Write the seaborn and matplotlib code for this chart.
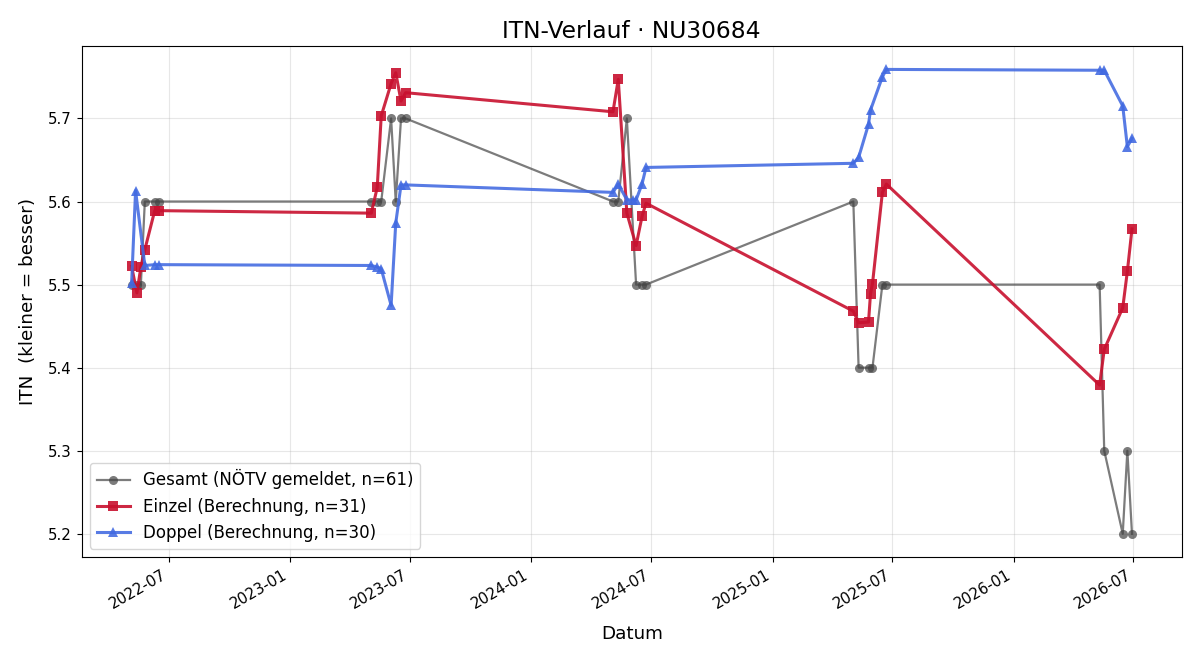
import matplotlib
matplotlib.use("Agg")
import matplotlib.pyplot as plt
import matplotlib.dates as mdates
import numpy as np
import pandas as pd
import seaborn as sns

# Gesamt (reported by NÖTV)
gesamt_dates = ["2022-05-06", "2022-05-14", "2022-05-20", "2022-05-26", "2022-06-10", "2022-06-17",
                "2023-05-04", "2023-05-13", "2023-05-19", "2023-06-03", "2023-06-10", "2023-06-18", "2023-06-25",
                "2024-05-04", "2024-05-12", "2024-05-25", "2024-06-08", "2024-06-17", "2024-06-23",
                "2025-05-03", "2025-05-11", "2025-05-26", "2025-06-01", "2025-06-16", "2025-06-22",
                "2026-05-11", "2026-05-18", "2026-06-15", "2026-06-22", "2026-06-29"]
gesamt_itn = [5.5, 5.5, 5.5, 5.6, 5.6, 5.6,
              5.6, 5.6, 5.6, 5.7, 5.6, 5.7, 5.7,
              5.6, 5.6, 5.7, 5.5, 5.5, 5.5,
              5.6, 5.4, 5.4, 5.4, 5.5, 5.5,
              5.5, 5.3, 5.2, 5.3, 5.2]

# Einzel (berechnet)
einzel_dates = ["2022-05-06", "2022-05-14", "2022-05-20", "2022-05-26", "2022-06-10", "2022-06-17",
                "2023-05-04", "2023-05-13", "2023-05-19", "2023-06-03", "2023-06-10", "2023-06-18", "2023-06-25",
                "2024-05-04", "2024-05-12", "2024-05-25", "2024-06-08", "2024-06-17", "2024-06-23",
                "2025-05-03", "2025-05-11", "2025-05-26", "2025-05-29", "2025-06-01", "2025-06-16", "2025-06-22",
                "2026-05-11", "2026-05-18", "2026-06-15", "2026-06-22", "2026-06-29"]
einzel_itn = [5.522, 5.490, 5.521, 5.542, 5.589, 5.589,
              5.586, 5.617, 5.703, 5.742, 5.755, 5.721, 5.731,
              5.708, 5.747, 5.586, 5.547, 5.582, 5.598,
              5.468, 5.454, 5.455, 5.489, 5.501, 5.611, 5.621,
              5.379, 5.422, 5.472, 5.516, 5.567]

# Doppel (berechnet)
doppel_dates = ["2022-05-06", "2022-05-12", "2022-05-26", "2022-06-10", "2022-06-17",
                "2023-05-04", "2023-05-13", "2023-05-19", "2023-06-03", "2023-06-10", "2023-06-18", "2023-06-25",
                "2024-05-04", "2024-05-12", "2024-05-25", "2024-06-03", "2024-06-08", "2024-06-17", "2024-06-23",
                "2025-05-03", "2025-05-11", "2025-05-26", "2025-05-29", "2025-06-16", "2025-06-22",
                "2026-05-11", "2026-05-18", "2026-06-15", "2026-06-22", "2026-06-29"]
doppel_itn = [5.502, 5.613, 5.523, 5.524, 5.524,
              5.523, 5.521, 5.519, 5.475, 5.574, 5.620, 5.620,
              5.611, 5.621, 5.602, 5.602, 5.602, 5.621, 5.641,
              5.646, 5.653, 5.693, 5.710, 5.750, 5.759,
              5.758, 5.758, 5.715, 5.666, 5.676]

gesamt = pd.DataFrame({"Datum": pd.to_datetime(gesamt_dates), "ITN": gesamt_itn})
einzel = pd.DataFrame({"Datum": pd.to_datetime(einzel_dates), "ITN": einzel_itn})
doppel = pd.DataFrame({"Datum": pd.to_datetime(doppel_dates), "ITN": doppel_itn})

fig, ax = plt.subplots(figsize=(12, 6.6), dpi=100)

sns.lineplot(data=gesamt, x="Datum", y="ITN", ax=ax, color="#444444", alpha=0.7,
             marker="o", markersize=6.5, markeredgewidth=0, linewidth=1.6,
             estimator=None, label="Gesamt (NÖTV gemeldet, n=61)")
sns.lineplot(data=einzel, x="Datum", y="ITN", ax=ax, color="#c8102e", alpha=0.9,
             marker="s", markersize=7.5, markeredgewidth=0, linewidth=2.2,
             estimator=None, label="Einzel (Berechnung, n=31)")
sns.lineplot(data=doppel, x="Datum", y="ITN", ax=ax, color="royalblue", alpha=0.88,
             marker="^", markersize=7.5, markeredgewidth=0, linewidth=2.2,
             estimator=None, label="Doppel (Berechnung, n=30)")

ax.set_title("ITN-Verlauf · NU30684", fontsize=16.8)
ax.set_xlabel("Datum", fontsize=13.2, labelpad=10)
ax.set_ylabel("ITN  (kleiner = besser)", fontsize=13.2, labelpad=8)
ax.xaxis.set_major_locator(mdates.MonthLocator(bymonth=[1, 7]))
ax.xaxis.set_major_formatter(mdates.DateFormatter("%Y-%m"))
ax.tick_params(labelsize=10.8)
ax.grid(True, alpha=0.3)
ax.legend(loc="lower left", fontsize=12)
fig.autofmt_xdate()
fig.subplots_adjust(left=0.068, right=0.985, top=0.930, bottom=0.156)
plt.savefig("out.png")
